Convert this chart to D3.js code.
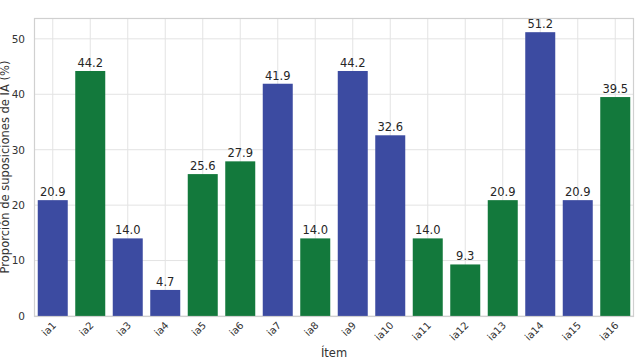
<!DOCTYPE html>
<html><head><meta charset="utf-8">
<script src="https://cdn.jsdelivr.net/npm/d3@7"></script>
<style>
body{margin:0;background:#fff;}
svg{display:block;}
</style></head>
<body>
<svg id="chart" width="637" height="360"></svg>
<script>
const categories = ["ia1","ia2","ia3","ia4","ia5","ia6","ia7","ia8","ia9","ia10","ia11","ia12","ia13","ia14","ia15","ia16"];
const values = [20.9,44.2,14.0,4.7,25.6,27.9,41.9,14.0,44.2,32.6,14.0,9.3,20.9,51.2,20.9,39.5];
const groups = ["A","B","A","A","B","B","A","B","A","A","B","B","B","A","A","B"];
const yTicks = [0,10,20,30,40,50];
const groupColors = {A:"#3c4ba1", B:"#13793c"};
const titleText = "Figura 2. Proporción de suposiciones de IA por ítem, según grupo, en la muestra (n = 43)";
const xLabel = "Ítem";
const yLabel = "Proporción de suposiciones de IA (%)";

const svg = d3.select("#chart");
const m = {left:34, right:3, top:18, bottom:44};
const W = 637, H = 360;
const x = d3.scaleBand().domain(categories).range([m.left, W-m.right]).paddingInner(0.2).paddingOuter(0.1);
const y = d3.scaleLinear().domain([0, 51.2*1.05]).range([H-m.bottom, m.top]);

// title (cropped above the picture, only descenders visible)
svg.append("text").attr("x", 318).attr("y", -3).attr("text-anchor","middle")
  .attr("font-family","Liberation Serif, serif").attr("font-size",13).attr("fill","#111")
  .text(titleText);

// grid
svg.append("g").selectAll("line").data(yTicks).join("line")
  .attr("x1", m.left).attr("x2", W-m.right)
  .attr("y1", d=>y(d)).attr("y2", d=>y(d))
  .attr("stroke","#e3e3e3").attr("stroke-width",1);
svg.append("g").selectAll("line").data(categories).join("line")
  .attr("x1", d=>x(d)+x.bandwidth()/2).attr("x2", d=>x(d)+x.bandwidth()/2)
  .attr("y1", m.top).attr("y2", H-m.bottom)
  .attr("stroke","#e3e3e3").attr("stroke-width",1);

// bars
svg.append("g").selectAll("rect").data(values).join("rect")
  .attr("x", (d,i)=>x(categories[i]))
  .attr("width", x.bandwidth())
  .attr("y", d=>y(d))
  .attr("height", d=>y(0)-y(d))
  .attr("fill", (d,i)=>groupColors[groups[i]]);

// value labels
svg.append("g").selectAll("text").data(values).join("text")
  .attr("x", (d,i)=>x(categories[i])+x.bandwidth()/2)
  .attr("y", d=>y(d)-4)
  .attr("text-anchor","middle")
  .attr("font-family","DejaVu Sans, sans-serif").attr("font-size",11.5).attr("fill","#262626")
  .text(d=>d.toFixed(1));

// frame
svg.append("rect").attr("x", m.left+0.5).attr("y", m.top+0.5)
  .attr("width", W-m.right-m.left-1).attr("height", H-m.bottom-m.top)
  .attr("fill","none").attr("stroke","#d0d0d0").attr("stroke-width",1.2);

// y axis
const yAxis = svg.append("g").attr("transform",`translate(${m.left},0)`)
  .call(d3.axisLeft(y).tickValues(yTicks).tickSize(0).tickPadding(9).tickFormat(d3.format("d")));
yAxis.select(".domain").remove();
yAxis.selectAll("text").attr("font-family","DejaVu Sans, sans-serif").attr("font-size",10.5).attr("fill","#333");

// x axis
const xAxis = svg.append("g").attr("transform",`translate(0,${H-m.bottom})`)
  .call(d3.axisBottom(x).tickSize(0).tickPadding(0));
xAxis.select(".domain").remove();
xAxis.selectAll("text")
  .attr("font-family","DejaVu Sans, sans-serif").attr("font-size",10).attr("fill","#333")
  .attr("text-anchor","end").attr("dy","0")
  .attr("transform","translate(4,10) rotate(-45)");

// axis labels
svg.append("text").attr("x", (m.left+W-m.right)/2).attr("y", 357).attr("text-anchor","middle")
  .attr("font-family","DejaVu Sans, sans-serif").attr("font-size",11.5).attr("fill","#333").text(xLabel);
svg.append("text").attr("transform",`translate(9,${(m.top+H-m.bottom)/2}) rotate(-90)`)
  .attr("text-anchor","middle")
  .attr("font-family","DejaVu Sans, sans-serif").attr("font-size",11.5).attr("fill","#333").text(yLabel);
</script>
</body></html>
